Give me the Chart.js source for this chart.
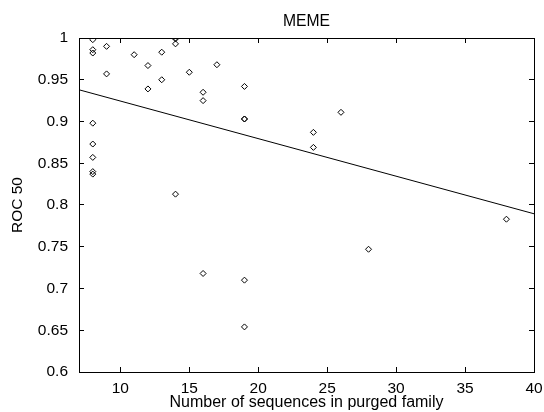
<!DOCTYPE html>
<html>
<head>
<meta charset="utf-8">
<script src="https://cdn.jsdelivr.net/npm/chart.js@4/dist/chart.umd.min.js"></script>
<style>
  html, body { margin: 0; padding: 0; background: #fff; }
  #wrap { width: 544px; height: 412px; }
</style>
</head>
<body>
<div id="wrap"><canvas id="chart"></canvas></div>
<script>
// family size vs ROC 50 score, one entry per family
const familySizes = [8, 8, 8, 8, 8, 8, 8, 8, 9, 9, 11, 12, 12, 13, 13, 14, 14, 14, 14, 15,
    16, 16, 16, 17, 19, 19, 19, 19, 19, 24, 24, 26, 28, 38];
const rocScores = [0.998, 0.986, 0.982, 0.898, 0.873, 0.857, 0.840, 0.837, 0.990, 0.957,
    0.980, 0.967, 0.939, 0.983, 0.950, 1.0, 0.999, 0.993, 0.813, 0.959,
    0.935, 0.925, 0.718, 0.968, 0.942, 0.903, 0.903, 0.710, 0.654, 0.887, 0.869, 0.911, 0.747, 0.783];

// least squares fit, ends of the line
const fitX = [7, 40];
const fitY = [0.938, 0.7895];

const xTicks = [10, 15, 20, 25, 30, 35, 40];
const yTicks = [0.6, 0.65, 0.7, 0.75, 0.8, 0.85, 0.9, 0.95, 1];

const FONT = "'Liberation Sans', Arial, Helvetica, sans-serif";
const SIZE = 15.5;

const chartTitle = {
    id: "chartTitle",
    afterDraw(chart) {
        const { ctx, chartArea: area } = chart;
        ctx.save();
        ctx.fillStyle = "#000";
        ctx.font = "15.7px " + FONT;
        ctx.textAlign = "center";
        ctx.textBaseline = "middle";
        ctx.fillText("MEME", (area.left + area.right) / 2, 22);
        ctx.restore();
    },
};

// gnuplot style frame: inward ticks on all four sides
function inwardGrid() {
    return { display: true, drawOnChartArea: false, drawTicks: true, tickLength: -5, color: "#000", lineWidth: 1 };
}
function frameBorder() {
    return { display: true, color: "#000", width: 1 };
}

function mirrorAxis(position, min, max, ticks) {
    return {
        type: "linear",
        position,
        min,
        max,
        afterBuildTicks: (scale) => { scale.ticks = ticks.map((value) => ({ value })); },
        afterFit: (scale) => {
            if (position === "top") scale.height = 0;
            else scale.width = 0;
            scale.paddingLeft = scale.paddingRight = scale.paddingTop = scale.paddingBottom = 0;
        },
        grid: inwardGrid(),
        border: frameBorder(),
        ticks: { display: false },
    };
}

new Chart(document.getElementById("chart"), {
    type: "scatter",
    data: {
        datasets: [
            {
                label: "families",
                data: familySizes.map((x, i) => ({ x, y: rocScores[i] })),
                pointStyle: "rectRot",
                pointRadius: 3,
                borderColor: "#000",
                backgroundColor: "rgba(255,255,255,0)",
                borderWidth: 1,
            },
            {
                label: "fit",
                data: fitX.map((x, i) => ({ x, y: fitY[i] })),
                showLine: true,
                pointRadius: 0,
                borderColor: "#000",
                borderWidth: 1,
            },
        ],
    },
    plugins: [chartTitle],
    options: {
        responsive: true,
        maintainAspectRatio: false,
        animation: false,
        layout: { padding: { left: 0, right: 10, top: 38, bottom: 0 } },
        plugins: {
            legend: { display: false },
            tooltip: { enabled: false },
        },
        scales: {
            x: {
                type: "linear",
                position: "bottom",
                min: 7,
                max: 40,
                afterBuildTicks: (scale) => { scale.ticks = xTicks.map((value) => ({ value })); },
                afterFit: (scale) => {
                    scale.height = 40;
                    scale.paddingLeft = scale.paddingRight = 0;
                },
                grid: inwardGrid(),
                border: frameBorder(),
                ticks: { color: "#000", font: { family: FONT, size: SIZE }, padding: 12, maxRotation: 0 },
                title: {
                    display: true,
                    text: "Number of sequences in purged family",
                    color: "#000",
                    font: { family: FONT, size: 16 },
                    padding: { top: 0, bottom: 0 },
                },
            },
            y: {
                type: "linear",
                position: "left",
                min: 0.6,
                max: 1,
                afterBuildTicks: (scale) => { scale.ticks = yTicks.map((value) => ({ value })); },
                afterFit: (scale) => {
                    scale.width = 79;
                    scale.paddingTop = scale.paddingBottom = 0;
                },
                grid: inwardGrid(),
                border: frameBorder(),
                ticks: {
                    color: "#000",
                    font: { family: FONT, size: SIZE },
                    padding: 16,
                    callback: (v) => String(+v.toFixed(2)),
                },
                title: {
                    display: true,
                    text: "ROC 50",
                    color: "#000",
                    font: { family: FONT, size: SIZE },
                    padding: { top: 8.5, bottom: 0 },
                },
            },
            x2: mirrorAxis("top", 7, 40, xTicks),
            y2: mirrorAxis("right", 0.6, 1, yTicks),
        },
    },
});
</script>
</body>
</html>
